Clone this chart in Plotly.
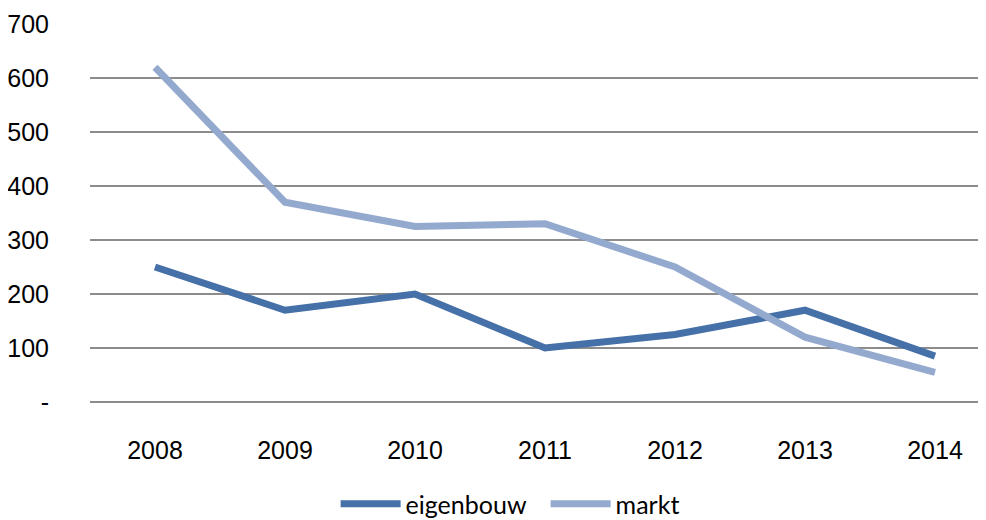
import plotly.graph_objects as go

years = ["2008", "2009", "2010", "2011", "2012", "2013", "2014"]
eigenbouw = [250, 170, 200, 100, 125, 170, 85]
markt = [620, 370, 325, 330, 250, 120, 55]
ytick_vals = [0, 100, 200, 300, 400, 500, 600, 700]
ytick_text = ["-", "100", "200", "300", "400", "500", "600", "700"]

FONT = "Arial, 'Liberation Sans', sans-serif"

fig = go.Figure()
fig.add_trace(go.Scatter(x=years, y=eigenbouw, name="eigenbouw", mode="lines",
                         line=dict(color="#4670A8", width=7)))
fig.add_trace(go.Scatter(x=years, y=markt, name="markt", mode="lines",
                         line=dict(color="#94A9CE", width=7)))

fig.update_layout(
    width=986, height=520,
    margin=dict(l=82, r=0, t=16, b=126, autoexpand=False),
    plot_bgcolor="white", paper_bgcolor="white",
    font=dict(family=FONT, size=25, color="#000000"),
    showlegend=True,
    legend=dict(orientation="h", x=0.504, xanchor="center", y=-0.27, yanchor="middle",
                font=dict(family="Lato", size=25),
                itemwidth=60, entrywidth=135, traceorder="normal"),
    xaxis=dict(type="category", range=[-0.5, 6.454], showgrid=False, showline=False,
               ticks="", ticklabelstandoff=31,
               tickfont=dict(family=FONT, size=25)),
    yaxis=dict(range=[0, 700], tickvals=ytick_vals, ticktext=ytick_text,
               showgrid=True, gridcolor="#8C8C8C", gridwidth=1.5,
               zeroline=True, zerolinecolor="#8C8C8C", zerolinewidth=1.5,
               showline=False, ticks="", ticklabelstandoff=40,
               tickfont=dict(family=FONT, size=25)),
)

fig.write_html("out.html")
